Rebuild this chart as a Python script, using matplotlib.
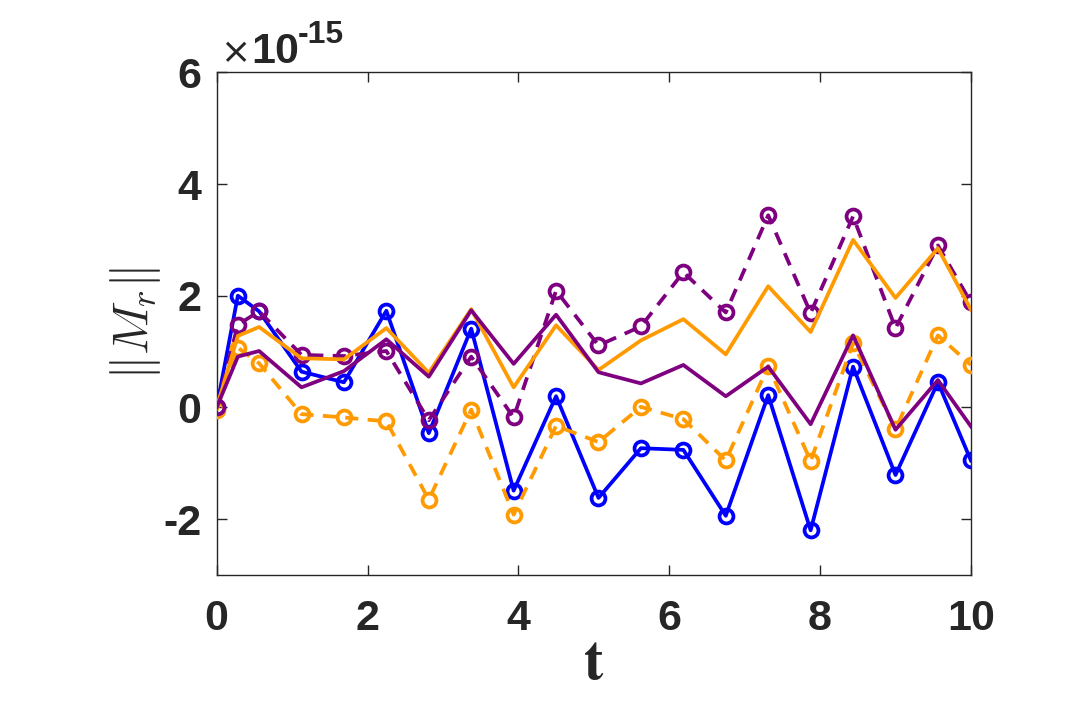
import matplotlib
matplotlib.use("Agg")
import matplotlib.pyplot as plt
from matplotlib.font_manager import FontProperties

plt.rcParams["mathtext.fontset"] = "cm"

# time samples
t = [0, 0.28125, 0.5625, 1.125, 1.6875, 2.25, 2.8125, 3.375, 3.9375, 4.5,
     5.0625, 5.625, 6.1875, 6.75, 7.3125, 7.875, 8.4375, 9.0, 9.5625, 10]

# values in units of 1e-15
blue = [0, 2.0, 1.72, 0.64, 0.45, 1.73, -0.46, 1.41, -1.49, 0.2,
        -1.62, -0.73, -0.76, -1.94, 0.22, -2.2, 0.73, -1.21, 0.45, -0.95]
purple_dash = [0, 1.48, 1.72, 0.94, 0.92, 1.01, -0.23, 0.91, -0.18, 2.09,
               1.11, 1.45, 2.42, 1.70, 3.44, 1.69, 3.42, 1.42, 2.90, 1.88]
orange_dash = [-0.05, 1.07, 0.79, -0.12, -0.18, -0.25, -1.65, -0.04, -1.92, -0.33,
               -0.62, 0.01, -0.21, -0.95, 0.74, -0.96, 1.15, -0.39, 1.29, 0.76]
orange_solid = [0, 1.28, 1.44, 0.88, 0.86, 1.42, 0.62, 1.76, 0.36, 1.47,
                0.67, 1.2, 1.58, 0.95, 2.17, 1.35, 3.0, 1.96, 2.85, 1.75]
purple_solid = [0, 0.91, 1.01, 0.36, 0.65, 1.22, 0.55, 1.74, 0.78, 1.66,
                0.63, 0.43, 0.76, 0.2, 0.73, -0.3, 1.29, -0.4, 0.49, -0.34]

BLUE = "#0000ff"
PURPLE = "#7e0080"
ORANGE = "#ff9a00"
TXT = "#262626"

fig = plt.figure(figsize=(10.8, 7.2), dpi=100)
ax = fig.add_axes([0.2006, 0.2014, 0.6984, 0.6982])

lw = 2.7
mk = dict(marker="o", markersize=10, markerfacecolor="none", markeredgewidth=2.7)
ax.plot(t, blue, color=BLUE, lw=lw, zorder=2, **mk)
ax.plot(t, orange_dash, color=ORANGE, lw=lw, dashes=(3.5, 2.5), zorder=3, **mk)
ax.plot(t, purple_dash, color=PURPLE, lw=lw, dashes=(3.5, 2.5), zorder=4, **mk)
ax.plot(t, orange_solid, color=ORANGE, lw=lw, zorder=5)
ax.plot(t, purple_solid, color=PURPLE, lw=lw, zorder=6)

ax.set_xlim(0, 10)
ax.set_ylim(-3, 6)
ax.set_xticks([0, 2, 4, 6, 8, 10])
ax.set_yticks([-2, 0, 2, 4, 6])
ax.set_yticklabels(["-2", "0", "2", "4", "6"])

for s in ax.spines.values():
    s.set_color(TXT)
    s.set_linewidth(1.0)
ax.tick_params(direction="in", length=7, width=1.0, colors=TXT,
               top=True, right=True, labelsize=31, pad=11)
for lab in ax.get_xticklabels() + ax.get_yticklabels():
    lab.set_fontfamily("Liberation Sans")
    lab.set_fontweight("bold")
ax.tick_params(axis="x", pad=17)

serif = FontProperties(family="STIXGeneral", weight="bold", size=42)
ax.set_xlabel("t", fontproperties=serif, color=TXT, labelpad=0)
ax.set_ylabel(r"$\|M_r\|$", fontsize=36, color=TXT, labelpad=0)

fig.text(0.204, 0.9125, "\u00d7", fontsize=26, color=TXT,
         fontfamily="DejaVu Sans", va="baseline", ha="left")
fig.text(0.233, 0.9125, "10", fontsize=31, fontweight="bold", color=TXT,
         fontfamily="Liberation Sans", va="baseline", ha="left")
fig.text(0.276, 0.940, "-15", fontsize=23, fontweight="bold", color=TXT,
         fontfamily="Liberation Sans", va="baseline", ha="left")

fig.savefig("out.png", dpi=100)
